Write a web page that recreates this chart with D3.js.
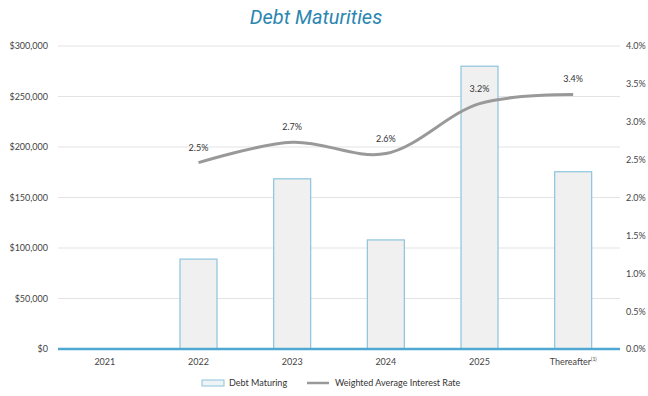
<!DOCTYPE html>
<html>
<head>
<meta charset="utf-8">
<script src="https://cdn.jsdelivr.net/npm/d3@7"></script>
<style>
  body { margin: 0; background: #fff; }
  text { font-family: Lato, "Open Sans", sans-serif; }
</style>
</head>
<body>
<div id="chart"></div>
<script>
// data
const categories = ["2021", "2022", "2023", "2024", "2025", "Thereafter"];
const debtMaturing = [0, 89000, 168500, 108000, 280000, 175500];
const interestRate = [null, 2.46, 2.73, 2.58, 3.24, 3.36];
const leftTicks = [0, 50000, 100000, 150000, 200000, 250000, 300000];
const rightTicks = [0, 0.5, 1, 1.5, 2, 2.5, 3, 3.5, 4];

const width = 648, height = 396;
const margin = { top: 46, right: 28, bottom: 47, left: 58 };
const w = width - margin.left - margin.right;
const h = height - margin.top - margin.bottom;

const svg = d3.select("#chart").append("svg")
  .attr("width", width)
  .attr("height", height);

svg.append("text")
  .attr("x", 316).attr("y", 24)
  .attr("text-anchor", "middle")
  .attr("font-family", "Roboto, sans-serif")
  .style("font-family", "Roboto, sans-serif")
  .attr("font-style", "italic")
  .attr("font-size", 20)
  .attr("fill", "#2b86b0")
  .text("Debt Maturities");

const g = svg.append("g").attr("transform", `translate(${margin.left},${margin.top})`);

const x = d3.scaleBand().domain(categories).range([0, w]).paddingInner(0.6).paddingOuter(0.3);
const yL = d3.scaleLinear().domain([0, 300000]).range([h, 0]);
const yR = d3.scaleLinear().domain([0, 4]).range([h, 0]);

// gridlines
g.append("g")
  .selectAll("line")
  .data(leftTicks.filter((d) => d > 0))
  .enter()
  .append("line")
  .attr("x1", 0).attr("x2", w)
  .attr("y1", (d) => yL(d)).attr("y2", (d) => yL(d))
  .attr("stroke", "#e3e3e3")
  .attr("stroke-width", 1);

// left axis
const leftAxis = g.append("g")
  .call(d3.axisLeft(yL).tickValues(leftTicks).tickSize(0).tickPadding(10)
    .tickFormat((d) => "$" + d3.format(",")(d)));
leftAxis.select(".domain").remove();
leftAxis.selectAll("text").attr("font-size", 9).attr("fill", "#444")
  .style("font-family", "Lato, sans-serif");

// right axis
const rightAxis = g.append("g")
  .attr("transform", `translate(${w},0)`)
  .call(d3.axisRight(yR).tickValues(rightTicks).tickSize(0).tickPadding(6)
    .tickFormat((d) => d3.format(".1f")(d) + "%"));
rightAxis.select(".domain").remove();
rightAxis.selectAll("text").attr("font-size", 9).attr("fill", "#444")
  .style("font-family", "Lato, sans-serif");

// bars
const barW = 37;
g.selectAll(".bar")
  .data(categories.map((c, i) => ({ c, v: debtMaturing[i] })).filter((d) => d.v > 0))
  .enter()
  .append("rect")
  .attr("class", "bar")
  .attr("x", (d) => x(d.c) + x.bandwidth() / 2 - barW / 2)
  .attr("width", barW)
  .attr("y", (d) => yL(d.v))
  .attr("height", (d) => h - yL(d.v))
  .attr("fill", "#f0f0f0")
  .attr("stroke", "#8cc4dd")
  .attr("stroke-width", 1.2);

// baseline
g.append("line")
  .attr("x1", 0).attr("x2", w)
  .attr("y1", yL(0)).attr("y2", yL(0))
  .attr("stroke", "#4fa8d1")
  .attr("stroke-width", 2.5);

// x labels
const xAxis = g.append("g")
  .attr("transform", `translate(0,${h})`)
  .call(d3.axisBottom(x).tickSize(0).tickPadding(10));
xAxis.select(".domain").remove();
xAxis.selectAll("text").attr("font-size", 9).attr("fill", "#444")
  .style("font-family", "Lato, sans-serif")
  .each(function (d) {
    if (d === "Thereafter") {
      d3.select(this).append("tspan").attr("dy", -4).attr("font-size", 5).text("(1)");
    }
  });

// rate line
const lineData = categories.map((c, i) => ({ c, v: interestRate[i] })).filter((d) => d.v != null);
const line = d3.line()
  .x((d) => x(d.c) + x.bandwidth() / 2)
  .y((d) => yR(d.v))
  .curve(d3.curveCatmullRom.alpha(0.5));

g.append("path")
  .datum(lineData)
  .attr("d", line)
  .attr("fill", "none")
  .attr("stroke", "#999")
  .attr("stroke-width", 3);

g.selectAll(".rate-label")
  .data(lineData)
  .enter()
  .append("text")
  .attr("class", "rate-label")
  .attr("x", (d) => x(d.c) + x.bandwidth() / 2)
  .attr("y", (d) => yR(d.v) - 12)
  .attr("text-anchor", "middle")
  .attr("font-size", 9)
  .attr("fill", "#333")
  .text((d) => d3.format(".1f")(d.v) + "%");

// legend
const legend = svg.append("g").attr("transform", "translate(0,383)");
legend.append("rect")
  .attr("x", 202).attr("y", -3).attr("width", 22).attr("height", 6)
  .attr("fill", "#eef3f6").attr("stroke", "#8cc4dd").attr("stroke-width", 1);
legend.append("text")
  .attr("x", 229).attr("y", 3)
  .attr("font-size", 9).attr("fill", "#333")
  .text("Debt Maturing");
legend.append("line")
  .attr("x1", 307).attr("x2", 329).attr("y1", 0).attr("y2", 0)
  .attr("stroke", "#999").attr("stroke-width", 2.5);
legend.append("text")
  .attr("x", 335).attr("y", 3)
  .attr("font-size", 9).attr("fill", "#333")
  .text("Weighted Average Interest Rate");
</script>
</body>
</html>
